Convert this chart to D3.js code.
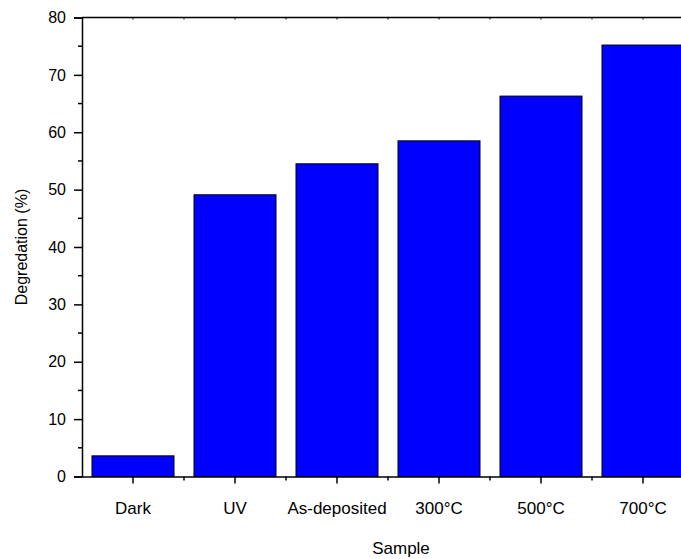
<!DOCTYPE html>
<html>
<head>
<meta charset="utf-8">
<script src="https://cdn.jsdelivr.net/npm/d3@7"></script>
<style>
  body { margin: 0; background: #fff; }
  svg { display: block; font-family: "Liberation Sans", Arial, sans-serif; }
</style>
</head>
<body>
<div id="chart"></div>
<script>
// data
const samples = ["Dark", "UV", "As-deposited", "300°C", "500°C", "700°C"];
const degradation = [3.6, 49.1, 54.5, 58.5, 66.3, 75.2];
const yTicks = [0, 10, 20, 30, 40, 50, 60, 70, 80];

const width = 681, height = 559;
const mLeft = 82, mTop = 17.5, mBottom = 476.5;
const step = 102;

const svg = d3.select("#chart").append("svg")
  .attr("width", width)
  .attr("height", height);

const x = d3.scaleBand()
  .domain(samples)
  .range([mLeft, mLeft + step * samples.length])
  .paddingInner(0.196)
  .paddingOuter(0.098);

const y = d3.scaleLinear().domain([0, 80]).range([mBottom, mTop]);

// bars
svg.selectAll("rect.bar")
  .data(samples)
  .enter()
  .append("rect")
  .attr("class", "bar")
  .attr("x", d => x(d))
  .attr("y", (d, i) => y(degradation[i]))
  .attr("width", x.bandwidth())
  .attr("height", (d, i) => y(0) - y(degradation[i]))
  .attr("fill", "#0000ff")
  .attr("stroke", "#000")
  .attr("stroke-width", 1);

// left axis
const yAxis = svg.append("g")
  .attr("transform", `translate(${mLeft},0)`)
  .call(d3.axisLeft(y).tickValues(yTicks).tickSize(8).tickPadding(8));
yAxis.select(".domain").attr("stroke-width", 1.5);
yAxis.selectAll(".tick line").attr("stroke-width", 1.5);
yAxis.selectAll("text").attr("font-size", "16px").attr("fill", "#000");

// minor y ticks
svg.selectAll("line.ymin")
  .data(yTicks.slice(0, -1).map(v => v + 5))
  .enter()
  .append("line")
  .attr("x1", mLeft - 4).attr("x2", mLeft)
  .attr("y1", d => y(d)).attr("y2", d => y(d))
  .attr("stroke", "#000").attr("stroke-width", 1.5);

// bottom axis
const xAxis = svg.append("g")
  .attr("transform", `translate(0,${mBottom})`)
  .call(d3.axisBottom(x).tickSize(7).tickPadding(18).tickSizeOuter(0));
xAxis.select(".domain").attr("stroke-width", 1.5);
xAxis.selectAll(".tick line").attr("stroke-width", 1.5);
xAxis.selectAll("text").attr("font-size", "17px").attr("fill", "#000");

// minor x ticks at band boundaries
const bounds = samples.map((d, i) => mLeft + step * i).concat([mLeft + step * samples.length]);
svg.selectAll("line.xmin")
  .data(bounds.slice(1))
  .enter()
  .append("line")
  .attr("x1", d => d).attr("x2", d => d)
  .attr("y1", mBottom).attr("y2", mBottom + 4)
  .attr("stroke", "#000").attr("stroke-width", 1.5);

// top frame line with small ticks
svg.append("line")
  .attr("x1", mLeft).attr("x2", width)
  .attr("y1", mTop).attr("y2", mTop)
  .attr("stroke", "#000").attr("stroke-width", 1.5);
const topTicks = samples.map(d => x(d) + x.bandwidth() / 2).concat(bounds.slice(1));
svg.selectAll("line.topTick")
  .data(topTicks)
  .enter()
  .append("line")
  .attr("x1", d => d).attr("x2", d => d)
  .attr("y1", mTop).attr("y2", mTop + 2)
  .attr("stroke", "#000").attr("stroke-width", 1);

// axis titles
svg.append("text")
  .attr("x", 401).attr("y", 554)
  .attr("text-anchor", "middle")
  .attr("font-size", "17px")
  .text("Sample");

svg.append("text")
  .attr("transform", `translate(27,${(mTop + mBottom) / 2}) rotate(-90)`)
  .attr("text-anchor", "middle")
  .attr("font-size", "16px")
  .text("Degredation (%)");
</script>
</body>
</html>
